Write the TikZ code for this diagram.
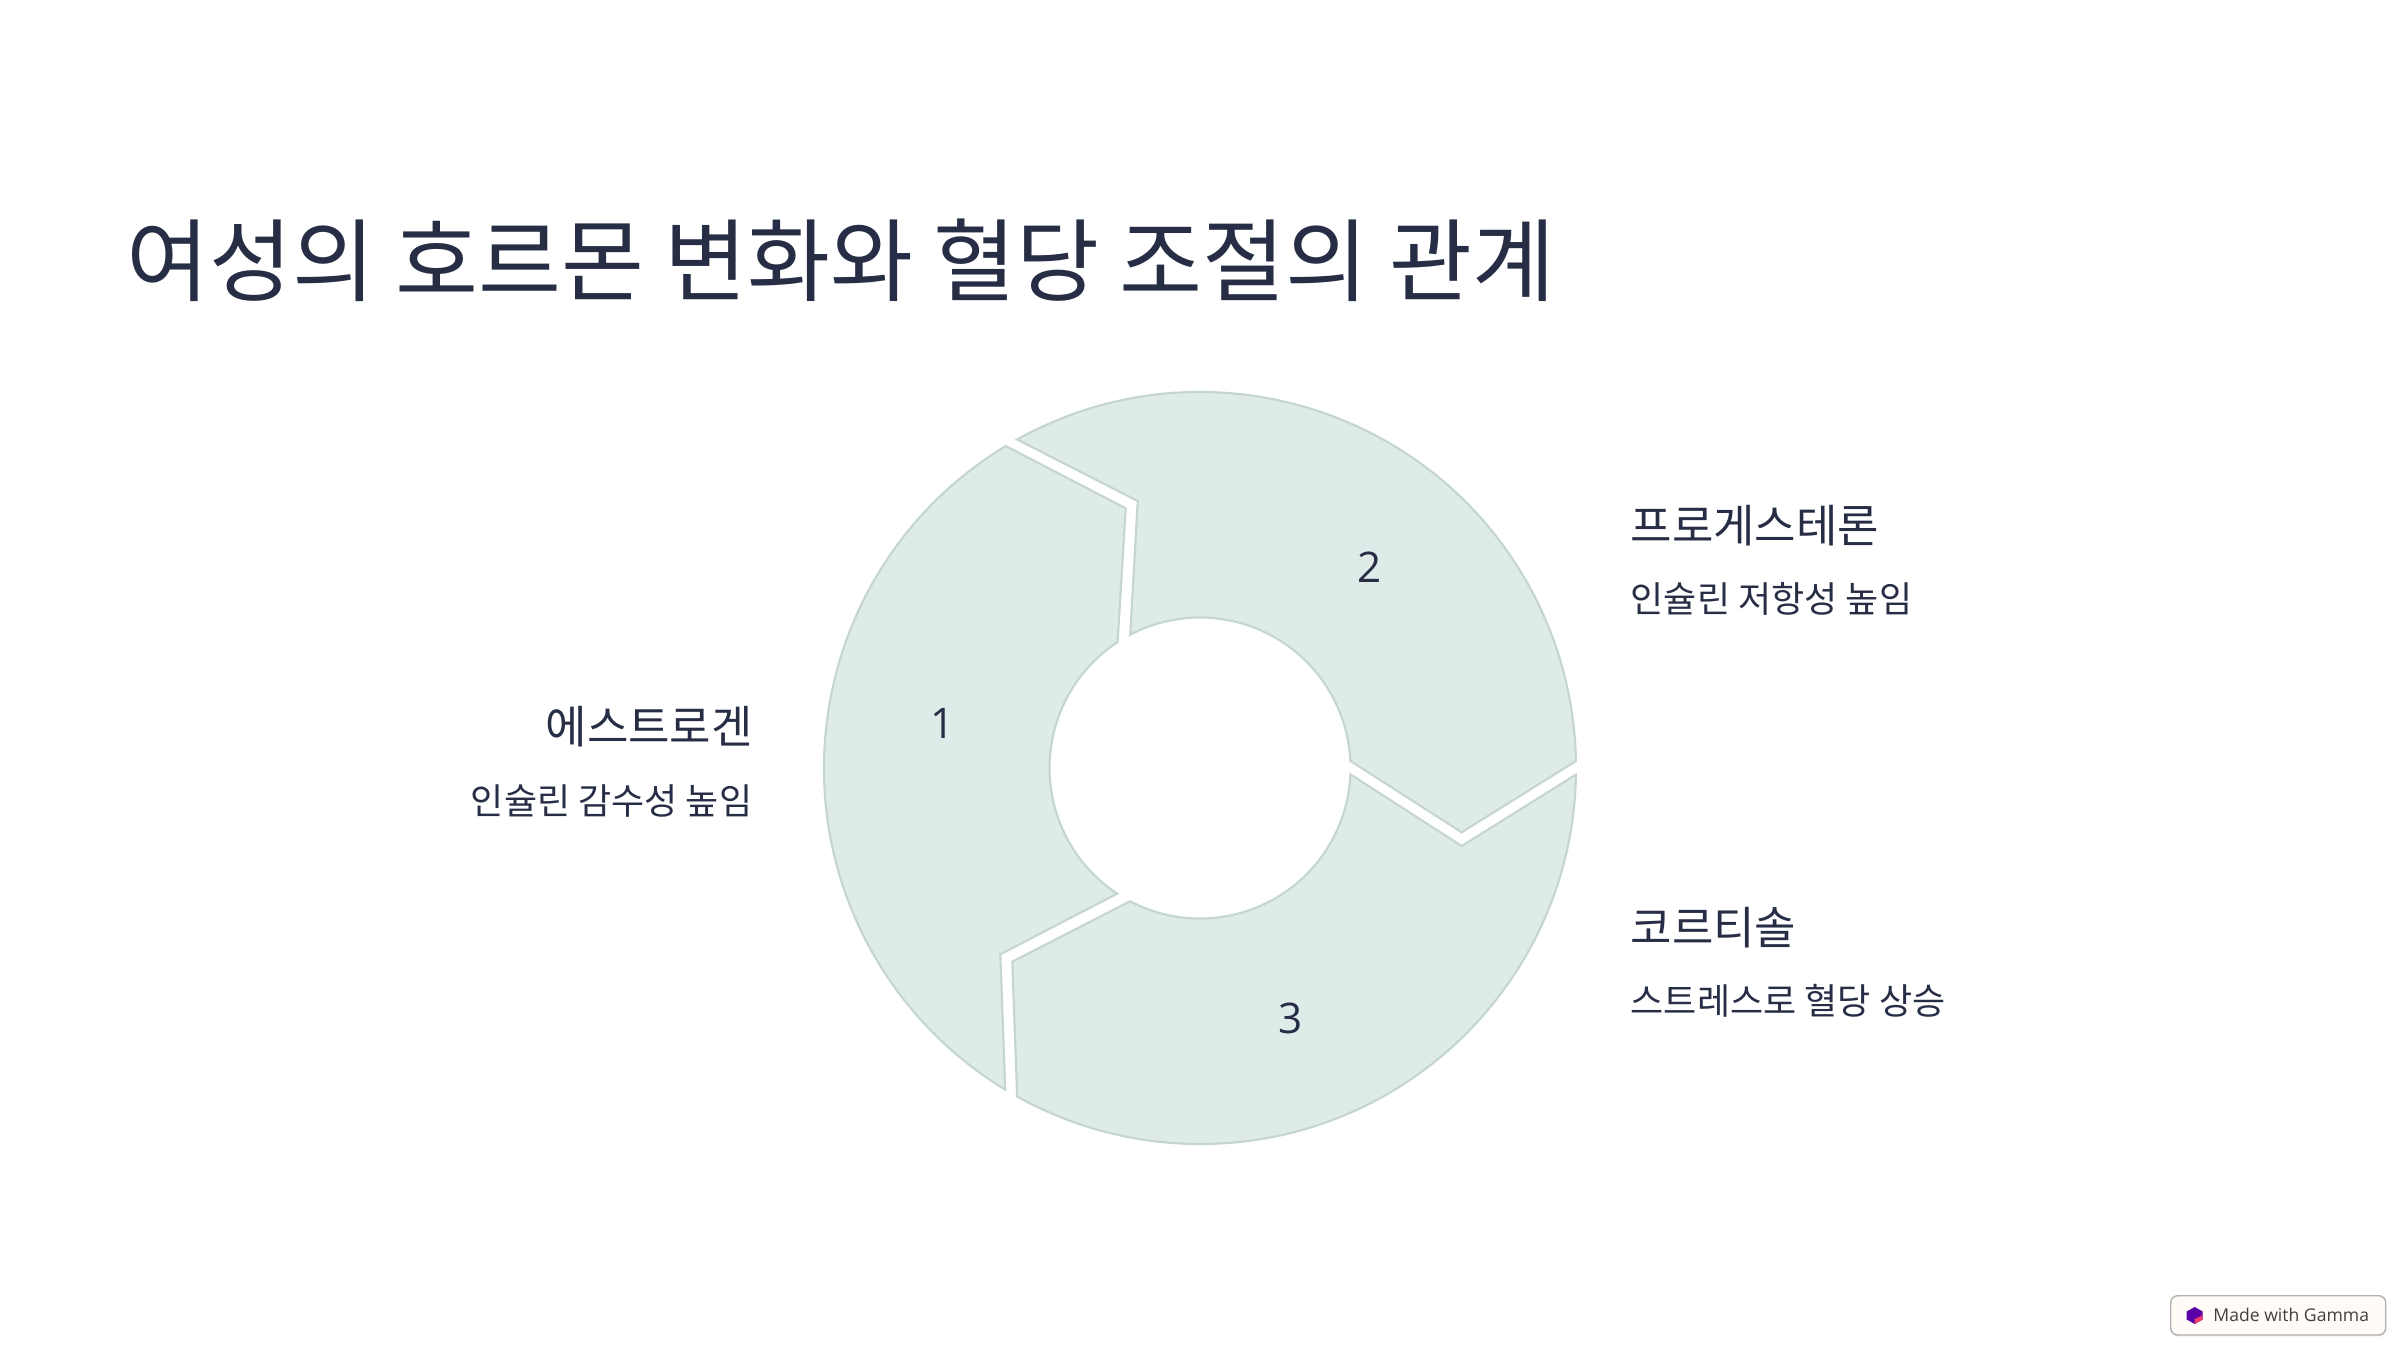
\documentclass[tikz,border=0pt]{standalone}
\usepackage{fontspec}
\setmainfont{Noto Sans CJK KR}
\newfontfamily\latinfont{Open Sans}
\usetikzlibrary{shadows}
\definecolor{inkblue}{HTML}{272D45}
\definecolor{segfill}{HTML}{DFEBE8}
\definecolor{segline}{HTML}{C5D5D1}
\begin{document}
\begin{tikzpicture}[x=0.01cm,y=0.01cm,
    segment/.style={fill=segfill,draw=segline,line width=0.6pt,line join=miter},
    heading/.style={inner sep=0pt,text=inkblue,font=\fontsize{12.8}{15}\selectfont},
    detail/.style={inner sep=0pt,text=inkblue,font=\fontsize{10.25}{13}\selectfont},
    number/.style={inner sep=0pt,text=inkblue,font=\latinfont\fontsize{12}{14}\selectfont}]
    \def\ro{376}
    \def\ri{150.5}
    \useasboundingbox (0,0) rectangle (2400,1350);
    \fill[white] (0,0) rectangle (2400,1350);
    \node[anchor=west,inner sep=0pt,text=inkblue,font=\fontsize{25.65}{30}\selectfont] (title) at (125.5,1090) {여성의 호르몬 변화와 혈당 조절의 관계};
    \begin{scope}[shift={(1200,582)}]
      \coordinate (n1t) at (-74.3,259.7);
      \coordinate (n1b) at (-199.7,-186.3);
      \coordinate (n2t) at (-62.3,267);
      \coordinate (n2b) at (261.7,-64.3);
      \coordinate (n3t) at (261.7,-78);
      \coordinate (n3b) at (-187.7,-193.7);
      \draw[segment] (121.1:\ro) arc[start angle=121.1,end angle=238.8,radius=\ro] -- (n1b)
        -- (236.6:\ri) arc[start angle=236.6,end angle=123.2,radius=\ri] -- (n1t) -- cycle;
      \draw[segment] (119.1:\ro) arc[start angle=119.1,end angle=1.07,radius=\ro] -- (n2b)
        -- (2.7:\ri) arc[start angle=2.7,end angle=117.6,radius=\ri] -- (n2t) -- cycle;
      \draw[segment] (-1:\ro) arc[start angle=-1,end angle=-119.1,radius=\ro] -- (n3b)
        -- (-117.7:\ri) arc[start angle=-117.7,end angle=-2.4,radius=\ri] -- (n3t) -- cycle;
    \end{scope}
    \node[number] (num1) at (942.5,627) {1};
    \node[number] (num2) at (1370,783) {2};
    \node[number] (num3) at (1291,332) {3};
    \node[heading,anchor=east] (estrogen) at (753.5,623) {에스트로겐};
    \node[detail,anchor=east] (estrogentext) at (753,549.5) {인슐린 감수성 높임};
    \node[heading,anchor=west] (progesterone) at (1630,824.5) {프로게스테론};
    \node[detail,anchor=west] (progesteronetext) at (1630,751.5) {인슐린 저항성 높임};
    \node[heading,anchor=west] (cortisol) at (1630,422.5) {코르티솔};
    \node[detail,anchor=west] (cortisoltext) at (1630,349.5) {스트레스로 혈당 상승};
    \draw[draw=black!30,fill=white!97!orange,line width=0.4pt,rounded corners=2pt,
      drop shadow={shadow xshift=0pt,shadow yshift=-0.4pt,opacity=0.2}] (2170.7,15) rectangle (2385.7,54.3);
    \fill[violet!70!blue] (2194.7,43) -- (2202.7,38.5) -- (2202.7,30.5) -- (2194.7,26) -- (2186.7,30.5) -- (2186.7,38.5) -- cycle;
    \fill[magenta!60!orange] (2194.7,26) -- (2202.7,30.5) -- (2202.7,35) -- (2194.7,31) -- cycle;
    \node[anchor=west,inner sep=0pt,text=black!75,font=\latinfont\fontsize{5}{7}\selectfont] (badge) at (2212.7,35) {Made with Gamma};
  \end{tikzpicture}
\end{document}
